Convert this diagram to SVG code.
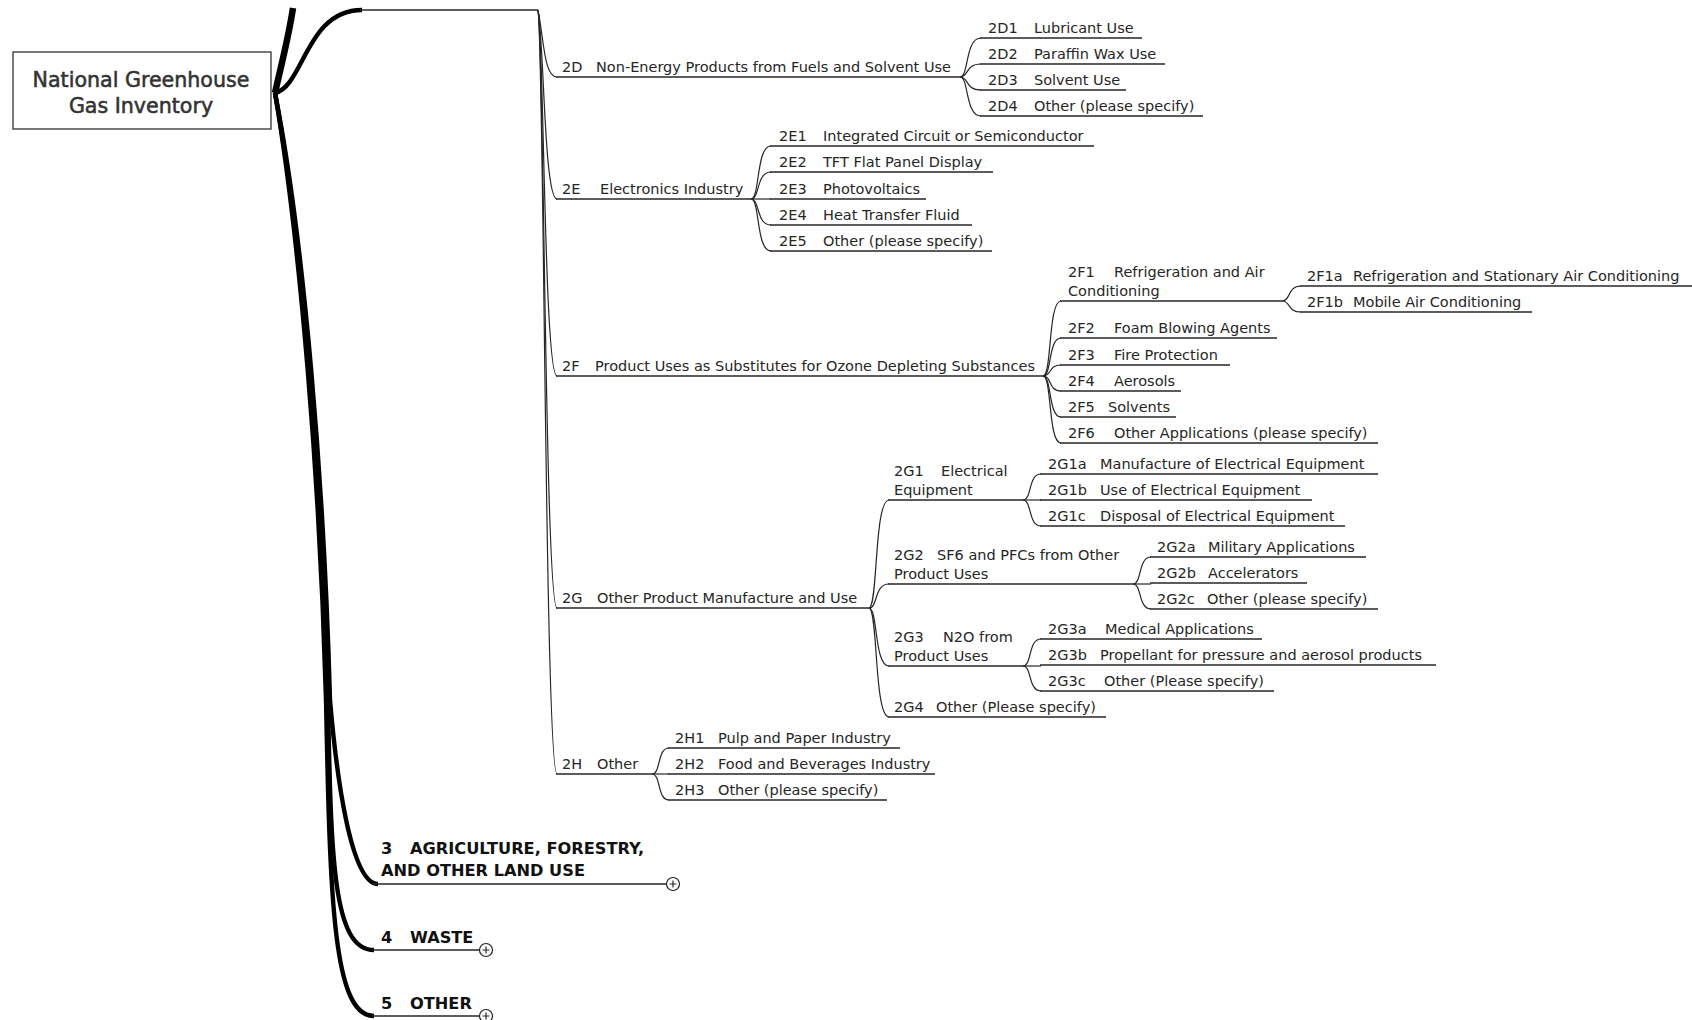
<svg xmlns="http://www.w3.org/2000/svg" width="1692" height="1020" viewBox="0 0 1692 1020">
<style>
.t{font-family:"DejaVu Sans","Liberation Sans",sans-serif;font-size:14.5px;fill:#262626}
.b{font-family:"DejaVu Sans","Liberation Sans",sans-serif;font-size:16.2px;font-weight:bold;fill:#111}
.r{font-family:"DejaVu Sans","Liberation Sans",sans-serif;font-size:20.6px;fill:#333;stroke:#333;stroke-width:0.55;text-anchor:middle}
.ul{stroke:#262626;stroke-width:1.4;fill:none}
.c{stroke:#262626;stroke-width:1.2;fill:none}
.k{stroke:#000;fill:none;stroke-width:4.4}
.box{fill:#fff;stroke:#333;stroke-width:1.3}
.exp{fill:#fff;stroke:#222;stroke-width:1.2}
</style>
<g id="connectors">
  <path d="M275,93 C282,62 289,35 293,8" stroke="#000" stroke-width="6.5" fill="none"/>
  <path class="k" d="M275,93 C304,86 306,10 362,10"/>
  <path class="ul" d="M360,10 H538"/>
  <path class="k" d="M275,93 C304,240 324,480 330,700 C336,770 350,884 378,884"/>
  <path class="k" d="M275,93 C302,240 322,480 328,700 C331,860 333,950 374,950"/>
  <path class="k" d="M275,93 C300,240 320,480 326,700 C330,900 333,1016 374,1016"/>
  <!-- level 2 from node 2 -->
  <path class="c" d="M538,10 C544,40 544,77 557,77"/>
  <path class="c" d="M538,10 C544,40 544,199 557,199"/>
  <path class="c" d="M538,10 C544,40 544,376 557,376"/>
  <path class="c" d="M538,10 C544,40 545,608 557,608"/>
  <path class="c" d="M538,10 C544,40 545,774 557,774"/>
  <!-- 2D children -->
  <path class="c" d="M960,77 C969,77 965,38 981,38"/>
  <path class="c" d="M960,77 C969,77 965,64 981,64"/>
  <path class="c" d="M960,77 C969,77 965,90 981,90"/>
  <path class="c" d="M960,77 C969,77 965,116 981,116"/>
  <!-- 2E children -->
  <path class="c" d="M751,199 C760,199 756,146 771,146"/>
  <path class="c" d="M751,199 C760,199 756,172 771,172"/>
  <path class="c" d="M751,199 H771"/>
  <path class="c" d="M751,199 C760,199 756,225 771,225"/>
  <path class="c" d="M751,199 C760,199 756,251 771,251"/>
  <!-- 2F children -->
  <path class="c" d="M1043,376 C1052,376 1048,301 1061,301"/>
  <path class="c" d="M1043,376 C1052,376 1048,338 1061,338"/>
  <path class="c" d="M1043,376 C1052,376 1048,365 1061,365"/>
  <path class="c" d="M1043,376 C1052,376 1048,391 1061,391"/>
  <path class="c" d="M1043,376 C1052,376 1048,417 1061,417"/>
  <path class="c" d="M1043,376 C1052,376 1048,443 1061,443"/>
  <!-- 2F1 children -->
  <path class="c" d="M1282,301 C1291,301 1287,286 1301,286"/>
  <path class="c" d="M1282,301 C1291,301 1287,312 1301,312"/>
  <!-- 2G children -->
  <path class="c" d="M869,608 C878,608 874,500 889,500"/>
  <path class="c" d="M869,608 C878,608 874,584 889,584"/>
  <path class="c" d="M869,608 C878,608 874,666 889,666"/>
  <path class="c" d="M869,608 C878,608 874,717 889,717"/>
  <!-- 2G1 children -->
  <path class="c" d="M1023,500 C1032,500 1028,474 1041,474"/>
  <path class="c" d="M1023,500 H1041"/>
  <path class="c" d="M1023,500 C1032,500 1028,526 1041,526"/>
  <!-- 2G2 children -->
  <path class="c" d="M1133,584 C1142,584 1138,557 1151,557"/>
  <path class="c" d="M1133,584 H1151"/>
  <path class="c" d="M1133,584 C1142,584 1138,609 1151,609"/>
  <!-- 2G3 children -->
  <path class="c" d="M1023,666 C1032,666 1028,639 1041,639"/>
  <path class="c" d="M1023,666 H1041"/>
  <path class="c" d="M1023,666 C1032,666 1028,691 1041,691"/>
  <!-- 2H children -->
  <path class="c" d="M652,774 C661,774 657,748 669,748"/>
  <path class="c" d="M652,774 H669"/>
  <path class="c" d="M652,774 C661,774 657,800 669,800"/>
</g>

<g id="root">
  <rect class="box" x="13" y="52" width="258" height="77"/>
  <text class="r" x="141" y="87">National Greenhouse</text>
  <text class="r" x="141" y="113">Gas Inventory</text>
</g>

<!-- Level 2 -->
<g id="n2D"><path class="ul" d="M556,77 H960"/><text class="t" y="72"><tspan x="562">2D</tspan><tspan x="596">Non-Energy Products from Fuels and Solvent Use</tspan></text></g>
<g id="n2E"><path class="ul" d="M556,199 H751"/><text class="t" y="194"><tspan x="562">2E</tspan><tspan x="600">Electronics Industry</tspan></text></g>
<g id="n2F"><path class="ul" d="M556,376 H1043"/><text class="t" y="371"><tspan x="562">2F</tspan><tspan x="595">Product Uses as Substitutes for Ozone Depleting Substances</tspan></text></g>
<g id="n2G"><path class="ul" d="M556,608 H869"/><text class="t" y="603"><tspan x="562">2G</tspan><tspan x="597">Other Product Manufacture and Use</tspan></text></g>
<g id="n2H"><path class="ul" d="M556,774 H652"/><text class="t" y="769"><tspan x="562">2H</tspan><tspan x="597">Other</tspan></text></g>

<!-- 2D children -->
<g id="n2D1"><path class="ul" d="M980,38 H1142"/><text class="t" y="33"><tspan x="988">2D1</tspan><tspan x="1034">Lubricant Use</tspan></text></g>
<g id="n2D2"><path class="ul" d="M980,64 H1165"/><text class="t" y="59"><tspan x="988">2D2</tspan><tspan x="1034">Paraffin Wax Use</tspan></text></g>
<g id="n2D3"><path class="ul" d="M980,90 H1126"/><text class="t" y="85"><tspan x="988">2D3</tspan><tspan x="1034">Solvent Use</tspan></text></g>
<g id="n2D4"><path class="ul" d="M980,116 H1203"/><text class="t" y="111"><tspan x="988">2D4</tspan><tspan x="1034">Other (please specify)</tspan></text></g>

<!-- 2E children -->
<g id="n2E1"><path class="ul" d="M770,146 H1094"/><text class="t" y="141"><tspan x="779">2E1</tspan><tspan x="823">Integrated Circuit or Semiconductor</tspan></text></g>
<g id="n2E2"><path class="ul" d="M770,172 H993"/><text class="t" y="167"><tspan x="779">2E2</tspan><tspan x="823">TFT Flat Panel Display</tspan></text></g>
<g id="n2E3"><path class="ul" d="M770,199 H926"/><text class="t" y="194"><tspan x="779">2E3</tspan><tspan x="823">Photovoltaics</tspan></text></g>
<g id="n2E4"><path class="ul" d="M770,225 H972"/><text class="t" y="220"><tspan x="779">2E4</tspan><tspan x="823">Heat Transfer Fluid</tspan></text></g>
<g id="n2E5"><path class="ul" d="M770,251 H992"/><text class="t" y="246"><tspan x="779">2E5</tspan><tspan x="823">Other (please specify)</tspan></text></g>

<!-- 2F children -->
<g id="n2F1"><path class="ul" d="M1060,301 H1282"/><text class="t" y="277"><tspan x="1068">2F1</tspan><tspan x="1114">Refrigeration and Air</tspan></text><text class="t" x="1068" y="296">Conditioning</text></g>
<g id="n2F2"><path class="ul" d="M1060,338 H1277"/><text class="t" y="333"><tspan x="1068">2F2</tspan><tspan x="1114">Foam Blowing Agents</tspan></text></g>
<g id="n2F3"><path class="ul" d="M1060,365 H1230"/><text class="t" y="360"><tspan x="1068">2F3</tspan><tspan x="1114">Fire Protection</tspan></text></g>
<g id="n2F4"><path class="ul" d="M1060,391 H1181"/><text class="t" y="386"><tspan x="1068">2F4</tspan><tspan x="1114">Aerosols</tspan></text></g>
<g id="n2F5"><path class="ul" d="M1060,417 H1176"/><text class="t" y="412"><tspan x="1068">2F5</tspan><tspan x="1108">Solvents</tspan></text></g>
<g id="n2F6"><path class="ul" d="M1060,443 H1378"/><text class="t" y="438"><tspan x="1068">2F6</tspan><tspan x="1114">Other Applications (please specify)</tspan></text></g>
<g id="n2F1a"><path class="ul" d="M1300,286 H1692"/><text class="t" y="281"><tspan x="1307">2F1a</tspan><tspan x="1353">Refrigeration and Stationary Air Conditioning</tspan></text></g>
<g id="n2F1b"><path class="ul" d="M1300,312 H1532"/><text class="t" y="307"><tspan x="1307">2F1b</tspan><tspan x="1353">Mobile Air Conditioning</tspan></text></g>

<!-- 2G children -->
<g id="n2G1"><path class="ul" d="M888,500 H1023"/><text class="t" y="476"><tspan x="894">2G1</tspan><tspan x="941">Electrical</tspan></text><text class="t" x="894" y="495">Equipment</text></g>
<g id="n2G2"><path class="ul" d="M888,584 H1133"/><text class="t" y="560"><tspan x="894">2G2</tspan><tspan x="937">SF6 and PFCs from Other</tspan></text><text class="t" x="894" y="579">Product Uses</text></g>
<g id="n2G3"><path class="ul" d="M888,666 H1023"/><text class="t" y="642"><tspan x="894">2G3</tspan><tspan x="943">N2O from</tspan></text><text class="t" x="894" y="661">Product Uses</text></g>
<g id="n2G4"><path class="ul" d="M888,717 H1106"/><text class="t" y="712"><tspan x="894">2G4</tspan><tspan x="936">Other (Please specify)</tspan></text></g>
<g id="n2G1a"><path class="ul" d="M1040,474 H1378"/><text class="t" y="469"><tspan x="1048">2G1a</tspan><tspan x="1100">Manufacture of Electrical Equipment</tspan></text></g>
<g id="n2G1b"><path class="ul" d="M1040,500 H1312"/><text class="t" y="495"><tspan x="1048">2G1b</tspan><tspan x="1100">Use of Electrical Equipment</tspan></text></g>
<g id="n2G1c"><path class="ul" d="M1040,526 H1345"/><text class="t" y="521"><tspan x="1048">2G1c</tspan><tspan x="1100">Disposal of Electrical Equipment</tspan></text></g>
<g id="n2G2a"><path class="ul" d="M1150,557 H1366"/><text class="t" y="552"><tspan x="1157">2G2a</tspan><tspan x="1208">Military Applications</tspan></text></g>
<g id="n2G2b"><path class="ul" d="M1150,583 H1307"/><text class="t" y="578"><tspan x="1157">2G2b</tspan><tspan x="1208">Accelerators</tspan></text></g>
<g id="n2G2c"><path class="ul" d="M1150,609 H1378"/><text class="t" y="604"><tspan x="1157">2G2c</tspan><tspan x="1207">Other (please specify)</tspan></text></g>
<g id="n2G3a"><path class="ul" d="M1040,639 H1262"/><text class="t" y="634"><tspan x="1048">2G3a</tspan><tspan x="1105">Medical Applications</tspan></text></g>
<g id="n2G3b"><path class="ul" d="M1040,665 H1436"/><text class="t" y="660"><tspan x="1048">2G3b</tspan><tspan x="1100">Propellant for pressure and aerosol products</tspan></text></g>
<g id="n2G3c"><path class="ul" d="M1040,691 H1274"/><text class="t" y="686"><tspan x="1048">2G3c</tspan><tspan x="1104">Other (Please specify)</tspan></text></g>

<!-- 2H children -->
<g id="n2H1"><path class="ul" d="M668,748 H900"/><text class="t" y="743"><tspan x="675">2H1</tspan><tspan x="718">Pulp and Paper Industry</tspan></text></g>
<g id="n2H2"><path class="ul" d="M668,774 H935"/><text class="t" y="769"><tspan x="675">2H2</tspan><tspan x="718">Food and Beverages Industry</tspan></text></g>
<g id="n2H3"><path class="ul" d="M668,800 H887"/><text class="t" y="795"><tspan x="675">2H3</tspan><tspan x="718">Other (please specify)</tspan></text></g>

<!-- Level 1 -->
<g id="n3">
  <path class="ul" d="M372,884 H667"/>
  <text class="b" y="854"><tspan x="381">3</tspan><tspan x="410">AGRICULTURE, FORESTRY,</tspan></text>
  <text class="b" x="381" y="876">AND OTHER LAND USE</text>
  <circle class="exp" cx="673" cy="884" r="6.5"/><path class="c" d="M669.5,884 H676.5 M673,880.5 V887.5"/>
</g>
<g id="n4">
  <path class="ul" d="M372,950 H480"/>
  <text class="b" y="943"><tspan x="381">4</tspan><tspan x="410">WASTE</tspan></text>
  <circle class="exp" cx="486" cy="950" r="6.5"/><path class="c" d="M482.5,950 H489.5 M486,946.5 V953.5"/>
</g>
<g id="n5">
  <path class="ul" d="M372,1016 H480"/>
  <text class="b" y="1009"><tspan x="381">5</tspan><tspan x="410">OTHER</tspan></text>
  <circle class="exp" cx="486" cy="1016" r="6.5"/><path class="c" d="M482.5,1016 H489.5 M486,1012.5 V1019.5"/>
</g>
</svg>
